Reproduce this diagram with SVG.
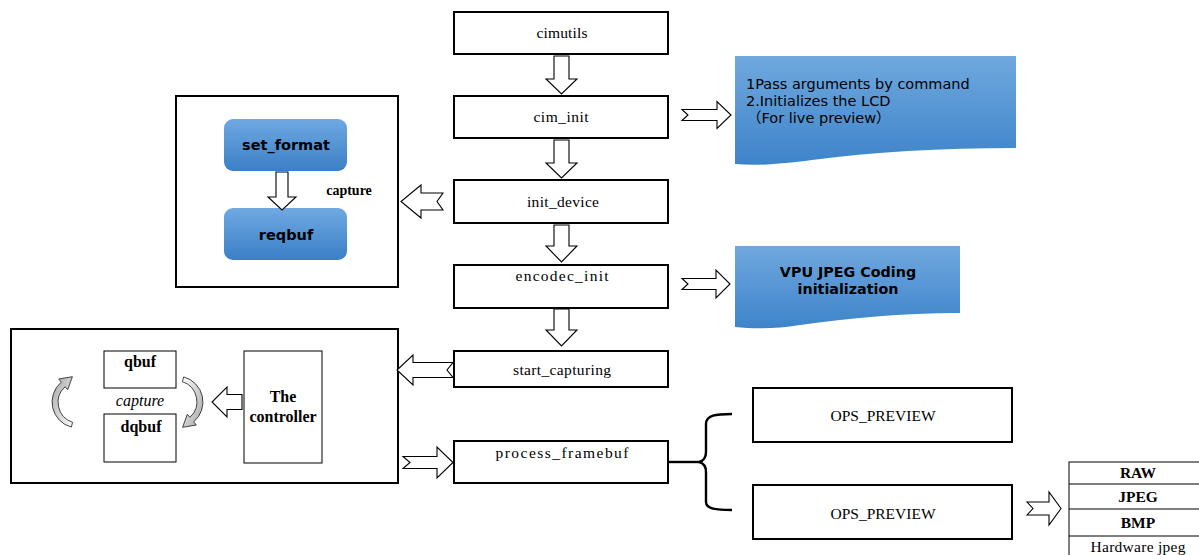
<svg xmlns="http://www.w3.org/2000/svg" width="1199" height="555" viewBox="0 0 1199 555">
  <defs>
    <linearGradient id="blueFill" x1="0" y1="0" x2="0" y2="1">
      <stop offset="0" stop-color="#70a8de"/>
      <stop offset="1" stop-color="#3d84ca"/>
    </linearGradient>
    <linearGradient id="pillFill" x1="0" y1="0" x2="0" y2="1">
      <stop offset="0" stop-color="#6fa9e2"/>
      <stop offset="1" stop-color="#3b7fc6"/>
    </linearGradient>
    <linearGradient id="grayRibbon" x1="0" y1="0" x2="1" y2="1">
      <stop offset="0" stop-color="#fbfbfb"/>
      <stop offset="1" stop-color="#a6a6a6"/>
    </linearGradient>
    <style>
      .box { fill: #ffffff; stroke: #000000; stroke-width: 2; }
      .thin { fill: #ffffff; stroke: #000000; stroke-width: 1; }
      .frame { fill: none; stroke: #000000; stroke-width: 2; }
      .hollow { fill: #ffffff; stroke: #000000; stroke-width: 1.1; stroke-linejoin: miter; }
      .ribbon { fill: url(#grayRibbon); stroke: #1a1a1a; stroke-width: 0.8; }
      .brace { fill: none; stroke: #000000; stroke-width: 2.4; stroke-linecap: butt; }
      .lbl { font-family: "Liberation Serif", "Times New Roman", serif; font-size: 15.5px; fill: #000000; text-anchor: middle; }
      .lblb { font-family: "Liberation Serif", "Times New Roman", serif; font-size: 16px; font-weight: bold; fill: #000000; text-anchor: middle; }
      .sans { font-family: "DejaVu Sans", "Noto Sans CJK SC", sans-serif; fill: #000000; }
    </style>
  </defs>

  <rect width="1199" height="555" fill="#ffffff"/>

  <!-- main pipeline -->
  <g id="cimutils">
    <rect class="box" x="454" y="12" width="214" height="42"/>
    <text class="lbl" x="562" y="38" textLength="51">cimutils</text>
  </g>
  <g id="cim_init">
    <rect class="box" x="454" y="96" width="214" height="42"/>
    <text class="lbl" x="561" y="122" textLength="55">cim_init</text>
  </g>
  <g id="init_device">
    <rect class="box" x="454" y="180" width="214" height="43"/>
    <text class="lbl" x="563" y="207" textLength="72">init_device</text>
  </g>
  <g id="encodec_init">
    <rect class="box" x="454" y="265" width="214" height="43"/>
    <text class="lbl" x="562" y="281" textLength="93">encodec_init</text>
  </g>
  <g id="start_capturing">
    <rect class="box" x="454" y="351" width="214" height="36"/>
    <text class="lbl" x="562" y="375" textLength="98">start_capturing</text>
  </g>
  <g id="process_framebuf">
    <rect class="box" x="454" y="441" width="214" height="42"/>
    <text class="lbl" x="562" y="458" textLength="133">process_framebuf</text>
  </g>

  <!-- note documents -->
  <g id="cim_init_note">
    <path d="M735,56 H1016 V148 C940,148 872,152 812,160 C780,164 758,166 735,164 Z" fill="url(#blueFill)"/>
    <text class="sans" font-size="14.5" x="746" y="89">1Pass arguments by command</text>
    <text class="sans" font-size="14.5" x="746" y="106">2.Initializes the LCD</text>
    <text class="sans" font-size="14.5" x="747" y="123">（For live preview）</text>
  </g>
  <g id="vpu_note">
    <path d="M735,246 H960 V313 C900,313 850,318 800,325 C775,329 755,329 735,327 Z" fill="url(#blueFill)"/>
    <text class="sans" font-size="14.3" font-weight="bold" text-anchor="middle" x="848" y="277">VPU JPEG Coding</text>
    <text class="sans" font-size="14.3" font-weight="bold" text-anchor="middle" x="848" y="294">initialization</text>
  </g>

  <!-- capture setup group -->
  <g id="capture_setup">
    <rect class="frame" x="176" y="96" width="222" height="191"/>
    <text x="349" y="195" font-family="Liberation Serif, serif" font-size="14" font-weight="bold" text-anchor="middle">capture</text>
  </g>
  <g id="set_format">
    <rect x="224" y="119" width="123" height="52" rx="9" fill="url(#pillFill)"/>
    <text class="sans" font-size="14.5" font-weight="bold" text-anchor="middle" x="286" y="150">set_format</text>
  </g>
  <g id="reqbuf">
    <rect x="224" y="208" width="123" height="52" rx="9" fill="url(#pillFill)"/>
    <text class="sans" font-size="14.5" font-weight="bold" text-anchor="middle" x="286" y="240">reqbuf</text>
  </g>

  <!-- capture loop group -->
  <g id="capture_loop">
    <rect class="frame" x="11" y="329" width="387" height="154"/>
    <text x="140" y="406" font-family="Liberation Serif, serif" font-size="16" font-style="italic" text-anchor="middle">capture</text>
  </g>
  <g id="qbuf">
    <rect class="thin" x="104" y="351" width="72" height="37"/>
    <text class="lblb" x="140" y="367">qbuf</text>
  </g>
  <g id="dqbuf">
    <rect class="thin" x="104" y="414" width="72" height="48"/>
    <text class="lblb" x="141" y="432">dqbuf</text>
  </g>
  <g id="controller">
    <rect class="thin" x="244" y="351" width="78" height="112"/>
    <text class="lblb" x="283" y="402">The</text>
    <text class="lblb" x="283" y="422">controller</text>
  </g>

  <!-- output modes -->
  <g id="ops_preview_1">
    <rect class="box" x="753" y="388" width="259" height="54"/>
    <text class="lbl" x="883" y="421" font-size="15">OPS_PREVIEW</text>
  </g>
  <g id="ops_preview_2">
    <rect class="box" x="753" y="485" width="259" height="54"/>
    <text class="lbl" x="883" y="519" font-size="15">OPS_PREVIEW</text>
  </g>
  <g id="formats">
    <rect class="thin" x="1069" y="462" width="150" height="110"/>
    <line x1="1069" y1="484" x2="1199" y2="484" stroke="#000" stroke-width="1"/>
    <line x1="1069" y1="509" x2="1199" y2="509" stroke="#000" stroke-width="1"/>
    <line x1="1069" y1="536" x2="1199" y2="536" stroke="#000" stroke-width="1"/>
    <text class="lbl" x="1138" y="478" font-size="15" font-weight="bold">RAW</text>
    <text class="lbl" x="1138" y="502" font-size="15" font-weight="bold">JPEG</text>
    <text class="lbl" x="1138" y="528" font-size="15" font-weight="bold">BMP</text>
    <text class="lbl" x="1138" y="552" font-size="16" textLength="95">Hardware jpeg</text>
  </g>

  <!-- connectors -->
  <g id="connectors">
    <!-- pipeline flow -->
    <path class="hollow" d="M554,56 L569,56 L569,79 L577,79 L561.5,94 L546,79 L554,79 Z"/>
    <path class="hollow" d="M554,140 L569,140 L569,163 L577,163 L561.5,178 L546,163 L554,163 Z"/>
    <path class="hollow" d="M554,225 L569,225 L569,246 L577,246 L561.5,262 L546,246 L554,246 Z"/>
    <path class="hollow" d="M554,309 L569,309 L569,330 L577,330 L561.5,346 L546,330 L554,330 Z"/>

    <!-- side branches -->
    <path class="hollow" d="M682,109.5 L717,109.5 L717,101.5 L731,115 L717,128.5 L717,120.5 L682,120.5 L688,115 Z"/>
    <path class="hollow" d="M682,278.5 L716,278.5 L716,270 L730,284 L716,298 L716,289.5 L682,289.5 L688,284 Z"/>
    <path class="hollow" d="M443,193 L421,193 L421,185 L401,201.5 L421,218 L421,210 L443,210 L437,201.5 Z"/>
    <path class="hollow" d="M453,362.5 L413,362.5 L413,355 L397,370 L413,385 L413,377.5 L453,377.5 L447,370 Z"/>
    <path class="hollow" d="M403,456.5 L437,456.5 L437,447 L453,462.5 L437,478 L437,468.5 L403,468.5 L410,462.5 Z"/>
    <path class="hollow" d="M1027,502 L1049,502 L1049,492 L1061,508.5 L1049,525 L1049,515 L1027,515 L1033,508.5 Z"/>

    <!-- inside capture setup -->
    <path class="hollow" d="M276,172 L288,172 L288,197 L296,197 L282,210 L268,197 L276,197 Z"/>

    <!-- inside capture loop -->
    <path class="hollow" d="M242,394.5 L227,394.5 L227,387 L212,402 L227,417 L227,409.5 L242,409.5 Z"/>
    <path class="ribbon" d="M183.7,376.9 A26,26 0 0 1 193.7,421.9 L196.3,425 L182.6,427.3 L187.3,414.3 L189.9,417.3 A21,21 0 0 0 182.4,381.7 Z"/>
    <path class="ribbon" transform="rotate(180 127.5 402)" d="M183.7,376.9 A26,26 0 0 1 193.7,421.9 L196.3,425 L182.6,427.3 L187.3,414.3 L189.9,417.3 A21,21 0 0 0 182.4,381.7 Z"/>

    <!-- fan-out brace -->
    <path class="brace" d="M669,462 H699"/>
    <path class="brace" d="M732,414 C716,414 706,415 706,424 V452 C706,459 703,461 699,462 C703,463 706,465 706,472 V502 C706,509 716,510 732,510"/>
  </g>
</svg>
